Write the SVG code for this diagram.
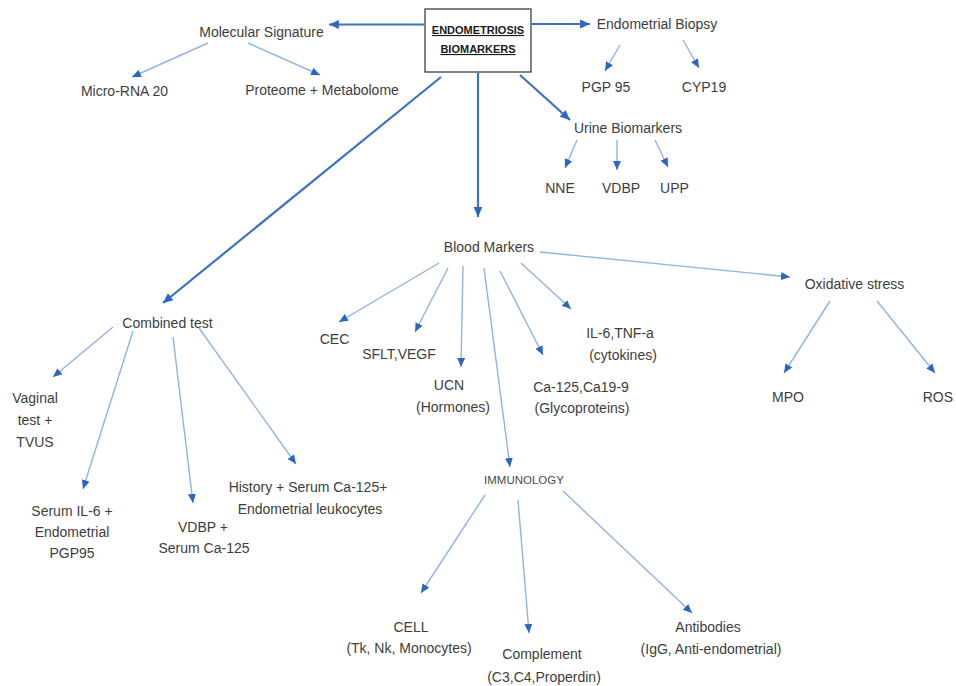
<svg xmlns="http://www.w3.org/2000/svg" width="956" height="686" viewBox="0 0 956 686">
<style>
  text { font-family: "Liberation Sans", Arial, sans-serif; font-size: 14px; fill: #3d3d3d; text-anchor: middle; }
  .title { font-weight: bold; font-size: 11px; fill: #1a1a1a; text-decoration: underline; }
  .small { font-size: 11.5px; fill: #4a4a4a; }
  .thick { stroke: #3a72c4; stroke-width: 2.2; fill: none; marker-end: url(#ah-big); }
  .thin { stroke: #8fb3e2; stroke-width: 1.4; fill: none; marker-end: url(#ah); }
</style>
<defs>
  <marker id="ah" markerUnits="userSpaceOnUse" markerWidth="10" markerHeight="10" viewBox="0 0 10 10" refX="9" refY="5" orient="auto">
    <path d="M0,1 L9,5 L0,9 Z" fill="#2a66c2"/>
  </marker>
  <marker id="ah-big" markerUnits="userSpaceOnUse" markerWidth="11" markerHeight="11" viewBox="0 0 10 10" refX="9" refY="5" orient="auto">
    <path d="M0,1 L9,5 L0,9 Z" fill="#2a66c2"/>
  </marker>
</defs>
<rect width="956" height="686" fill="#ffffff"/>

<g id="connectors">
  <line class="thick" x1="424" y1="24.5" x2="329" y2="24.5"/>
  <line class="thick" x1="532" y1="24" x2="590" y2="24"/>
  <line class="thick" x1="520" y1="75" x2="570" y2="120"/>
  <line class="thick" x1="478" y1="73" x2="478" y2="217"/>
  <line class="thick" x1="441" y1="77" x2="163" y2="303"/>

  <line class="thin" x1="208" y1="43" x2="132" y2="77"/>
  <line class="thin" x1="248" y1="43" x2="320" y2="75"/>
  <line class="thin" x1="620" y1="45" x2="605" y2="71"/>
  <line class="thin" x1="683" y1="40" x2="699" y2="68"/>
  <line class="thin" x1="577" y1="140" x2="565" y2="168"/>
  <line class="thin" x1="617" y1="140" x2="617" y2="170"/>
  <line class="thin" x1="655" y1="140" x2="668" y2="167"/>

  <line class="thin" x1="113" y1="327" x2="53" y2="377"/>
  <line class="thin" x1="133" y1="331" x2="83" y2="489"/>
  <line class="thin" x1="173" y1="337" x2="193" y2="503"/>
  <line class="thin" x1="199" y1="328" x2="296" y2="464"/>

  <line class="thin" x1="439" y1="263" x2="339" y2="322"/>
  <line class="thin" x1="448" y1="268" x2="415" y2="332"/>
  <line class="thin" x1="463" y1="266" x2="461" y2="367"/>
  <line class="thin" x1="484" y1="268" x2="510" y2="467"/>
  <line class="thin" x1="500" y1="271" x2="543" y2="355"/>
  <line class="thin" x1="521" y1="263" x2="571" y2="309"/>
  <line class="thin" x1="540" y1="252" x2="790" y2="277"/>

  <line class="thin" x1="830" y1="301" x2="784" y2="373"/>
  <line class="thin" x1="877" y1="301" x2="935" y2="373"/>

  <line class="thin" x1="485" y1="495" x2="421" y2="593"/>
  <line class="thin" x1="518" y1="500" x2="529" y2="633"/>
  <line class="thin" x1="563" y1="491" x2="692" y2="613"/>
</g>

<g id="root">
  <rect x="425" y="9" width="106" height="63" fill="#ffffff" stroke="#404040" stroke-width="1.3"/>
  <text class="title" x="478" y="34">ENDOMETRIOSIS</text>
  <text class="title" x="478" y="53">BIOMARKERS</text>
</g>
<g id="molecular-signature"><text x="261.5" y="37">Molecular Signature</text></g>
<g id="endometrial-biopsy"><text x="657" y="29">Endometrial Biopsy</text></g>
<g id="micro-rna"><text x="124.5" y="96">Micro-RNA 20</text></g>
<g id="proteome"><text x="322" y="95">Proteome + Metabolome</text></g>
<g id="pgp95"><text x="606" y="92">PGP 95</text></g>
<g id="cyp19"><text x="704" y="92">CYP19</text></g>
<g id="urine"><text x="628" y="133">Urine Biomarkers</text></g>
<g id="nne"><text x="560" y="193">NNE</text></g>
<g id="vdbp"><text x="621" y="193">VDBP</text></g>
<g id="upp"><text x="674.5" y="193">UPP</text></g>
<g id="blood"><text x="489" y="252">Blood Markers</text></g>
<g id="combined"><text x="167.5" y="328">Combined test</text></g>
<g id="vaginal">
  <text x="35" y="403">Vaginal</text>
  <text x="35" y="425">test +</text>
  <text x="35" y="447">TVUS</text>
</g>
<g id="serum-il6">
  <text x="72" y="516">Serum IL-6 +</text>
  <text x="72" y="537">Endometrial</text>
  <text x="72" y="558">PGP95</text>
</g>
<g id="vdbp-serum">
  <text x="203" y="532">VDBP +</text>
  <text x="204" y="553">Serum Ca-125</text>
</g>
<g id="history">
  <text x="308" y="492">History + Serum Ca-125+</text>
  <text x="310" y="514">Endometrial leukocytes</text>
</g>
<g id="cec"><text x="334.5" y="344">CEC</text></g>
<g id="sflt"><text x="399" y="359">SFLT,VEGF</text></g>
<g id="ucn">
  <text x="449" y="390">UCN</text>
  <text x="453" y="412">(Hormones)</text>
</g>
<g id="ca125">
  <text x="581" y="392">Ca-125,Ca19-9</text>
  <text x="582" y="413">(Glycoproteins)</text>
</g>
<g id="il6">
  <text x="620" y="338">IL-6,TNF-a</text>
  <text x="623" y="360">(cytokines)</text>
</g>
<g id="oxidative"><text x="854.5" y="289">Oxidative stress</text></g>
<g id="mpo"><text x="788" y="402">MPO</text></g>
<g id="ros"><text x="953" y="402" style="text-anchor:end">ROS</text></g>
<g id="immunology"><text class="small" x="524" y="484">IMMUNOLOGY</text></g>
<g id="cell">
  <text x="411" y="632">CELL</text>
  <text x="409" y="653">(Tk, Nk, Monocytes)</text>
</g>
<g id="complement">
  <text x="542" y="659">Complement</text>
  <text x="544" y="682">(C3,C4,Properdin)</text>
</g>
<g id="antibodies">
  <text x="708" y="632">Antibodies</text>
  <text x="711" y="654">(IgG, Anti-endometrial)</text>
</g>
</svg>
